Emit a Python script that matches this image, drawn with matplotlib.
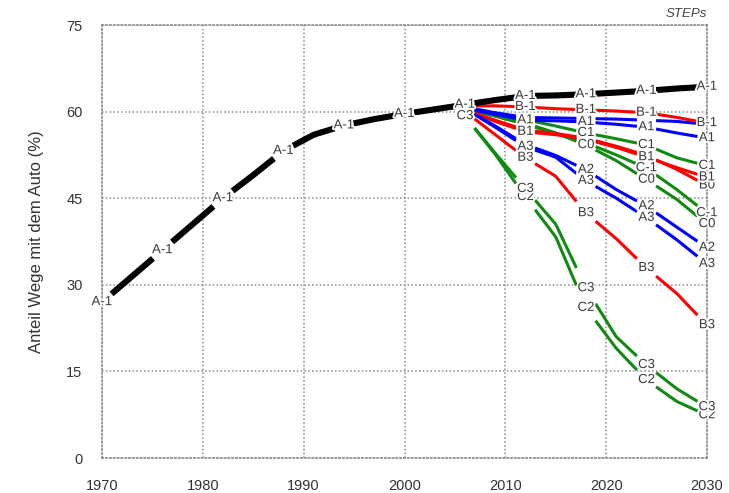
import numpy as np
import matplotlib
matplotlib.use('Agg')
import matplotlib.pyplot as plt
import matplotlib.patheffects as pe

plt.rcParams['font.family'] = ['Liberation Sans', 'DejaVu Sans']

# Historic share of trips by car (A-1 base line), every 3 years
hist_years = [1970, 1973, 1976, 1979, 1982, 1985, 1988, 1991, 1994, 1997, 2000, 2003, 2006]
hist_a_m1 = [27.0, 31.5, 36.0, 40.5, 45.0, 49.0, 53.2, 56.0, 57.6, 58.7, 59.6, 60.4, 61.2]

# Scenario years
years = [2006, 2009, 2012, 2015, 2018, 2021, 2024, 2027, 2030]

# Scenario values (%)
a_m1 = [61.2, 62.0, 62.7, 62.8, 63.0, 63.3, 63.6, 64.0, 64.3]
a0 = [60.8, 59.8, 59.0, 58.9, 58.8, 58.7, 58.5, 58.3, 57.8]
a1 = [60.6, 59.5, 58.5, 58.4, 58.2, 57.8, 57.3, 56.3, 55.4]
a2 = [60.5, 57.5, 54.3, 52.4, 49.9, 46.5, 43.6, 40.0, 36.4]
a3 = [60.5, 57.3, 53.9, 52.1, 48.0, 45.0, 41.6, 37.8, 33.6]
b_m1 = [61.0, 61.0, 60.8, 60.5, 60.3, 60.1, 59.8, 59.0, 58.0]
b0 = [60.3, 58.5, 56.8, 56.2, 55.4, 54.0, 52.4, 50.0, 47.2]
b1 = [60.3, 58.3, 56.5, 56.0, 55.2, 53.8, 52.1, 50.3, 48.6]
b3 = [60.0, 56.0, 52.0, 48.8, 42.4, 38.0, 32.9, 28.5, 23.0]
c_m1 = [60.5, 59.2, 57.8, 56.2, 54.6, 52.5, 50.2, 46.5, 42.4]
c0 = [60.5, 59.3, 58.0, 56.3, 54.2, 51.5, 48.2, 44.8, 40.5]
c1 = [60.6, 59.5, 58.6, 57.5, 56.3, 55.3, 54.2, 52.0, 50.6]
c2 = [59.2, 52.6, 45.2, 38.3, 26.0, 19.0, 13.5, 9.8, 7.4]
c3 = [59.2, 52.8, 46.6, 40.5, 29.4, 21.0, 16.1, 12.0, 8.8]

# Years at which each label is visible (others are hidden under neighbours)
label_years = {
    'A0': [],
    'C-1': [2024, 2030],
    'C0': [2018, 2024, 2030],
    'C1': [2018, 2024, 2030],
    'C2': [2012, 2018, 2024, 2030],
    'C3': [2006, 2012, 2018, 2024, 2030],
    'B0': [2030],
    'B1': [2012, 2024, 2030],
    'B3': [2012, 2018, 2024, 2030],
    'B-1': [2012, 2018, 2024, 2030],
    'A2': [2018, 2024, 2030],
    'A3': [2012, 2018, 2024, 2030],
    'A1': [2012, 2018, 2024, 2030],
}

GREEN = '#108a10'
RED = '#ff0000'
BLUE = '#0000ff'

series = [
    ('C-1', c_m1, GREEN), ('C0', c0, GREEN), ('C1', c1, GREEN),
    ('C2', c2, GREEN), ('C3', c3, GREEN),
    ('B0', b0, RED), ('B1', b1, RED), ('B3', b3, RED),
    ('A2', a2, BLUE), ('A3', a3, BLUE), ('A0', a0, BLUE),
    ('B-1', b_m1, RED), ('A1', a1, BLUE),
]

gap = 0.95
halo = [pe.withStroke(linewidth=2.5, foreground='white')]

fig = plt.figure(figsize=(7.29, 4.93), dpi=100)
ax = fig.add_axes([102 / 729, 1 - 458 / 493, (707 - 102) / 729, (458 - 25) / 493])


def draw_broken(ax, xs, ys, color, lw, z):
    # line broken around every 6th year, where gnuplot-style labels sit
    marks = np.arange(xs[0], xs[-1] + 1, 6)
    for t0, t1 in zip(marks[:-1], marks[1:]):
        t = np.linspace(t0 + gap, t1 - gap, 30)
        ax.plot(t, np.interp(t, xs, ys), color=color, lw=lw, zorder=z,
                solid_capstyle='butt')


def put_label(ax, x, y, name):
    ax.text(x, y, name, ha='center', va='center', fontsize=9.5, color='#3a3a3a',
            path_effects=halo, zorder=6)


for name, vals, col in series:
    draw_broken(ax, years, vals, col, 2.2, 3)

all_years = hist_years + years[1:]
all_a_m1 = hist_a_m1 + a_m1[1:]
draw_broken(ax, all_years, all_a_m1, 'black', 4.4, 4)

for name, vals, col in series:
    for yr in label_years[name]:
        put_label(ax, yr, vals[years.index(yr)], name)
for yr in range(1970, 2031, 6):
    put_label(ax, yr, np.interp(yr, all_years, all_a_m1), 'A-1')

ax.set_xlim(1970, 2030)
ax.set_ylim(0, 75)
ax.set_xticks(range(1970, 2031, 10))
ax.set_yticks(range(0, 76, 15))
ax.tick_params(length=0, labelsize=10.5, labelcolor='#333333')
ax.tick_params(axis='x', pad=15)
ax.tick_params(axis='y', pad=14)
ax.grid(True, linestyle=(0, (1, 1.5)), color='#8a8a8a', linewidth=1.1)
for s in ax.spines.values():
    s.set_linestyle((0, (1, 1.5)))
    s.set_color('#8a8a8a')
    s.set_linewidth(1.1)

ax.set_ylabel('Anteil Wege mit dem Auto (%)', fontsize=12, color='#333333', labelpad=16)
ax.text(1.0, 1.012, 'STEPs', transform=ax.transAxes, ha='right', va='bottom',
        fontsize=9.5, style='italic', color='#444444')

fig.savefig('out.png', dpi=100)
